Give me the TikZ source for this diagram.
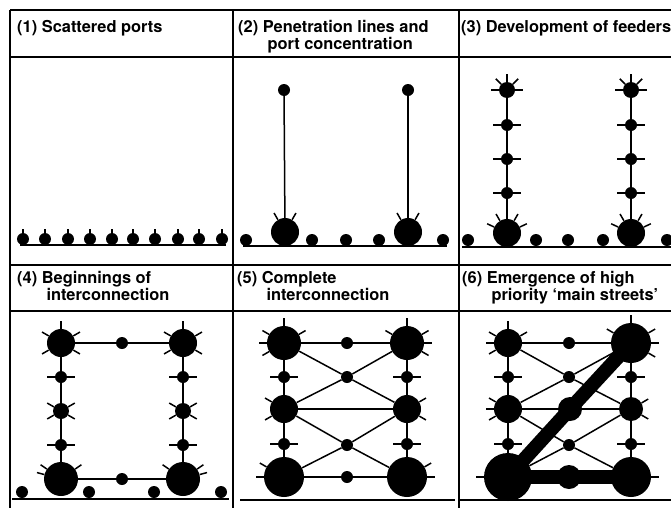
\documentclass[tikz,border=0pt]{standalone}
\usepackage{fontspec}
\setsansfont{TeX Gyre Heros}
\usepackage{tikz}
\usetikzlibrary{positioning}
\tikzset{
  port/.style={circle,fill,inner sep=0pt,minimum size=#1},
  port/.default=3.6mm,
  link/.style={line width=0.45mm},
  mainst/.style={line width=4.2mm},
  spoke/.style={line width=0.45mm},
  rule/.style={line width=0.45mm},
  ground/.style={line width=0.6mm},
  title/.style={anchor=north west,inner sep=0pt,align=left,
    font=\sffamily\bfseries\fontsize{14}{12.8}\selectfont}
}
% short ticks sticking out of a port
\newcommand{\spokes}[3][2.3mm]{\foreach \a in {#3} {\draw[spoke] (#2.\a) -- ++(\a:#1);}}
\newcommand{\ind}{\phantom{(0) }\hspace{4pt}}

\begin{document}
\begin{tikzpicture}[x=0.3mm,y=-0.3mm]
\useasboundingbox (0,0) rectangle (671,512);
% frame of the six panels
\draw[rule] (10,10) -- (671,10);
\draw[rule] (10,57) -- (671,57);
\draw[rule] (10,265) -- (671,265);
\draw[rule] (10,311) -- (671,311);
\foreach \x in {10,233,459} \draw[rule] (\x,10) -- (\x,508);

\node[title] (t1) at (17,20) {(1) Scattered ports};
\node[title] (t2) at (238,20) {(2) Penetration lines and\\\ind port concentration};
\node[title] (t3) at (461,20) {(3) Development of feeders};
\node[title] (t4) at (17,271) {(4) Beginnings of\\\ind interconnection};
\node[title] (t5) at (237,271) {(5) Complete\\\ind interconnection};
\node[title] (t6) at (462,271) {(6) Emergence of high\\\ind priority `main streets'};

% (1)
\foreach \i/\x in {1/23,2/45,3/68,4/90,5/112,6/133,7/155,8/178,9/199,10/222} {
  \node[port] (a\i) at (\x,239) {};
  \spokes[1.2mm]{a\i}{90}
}
\draw[ground] (20,245) -- (226,245);

% (2)
\foreach \i/\x in {1/246,2/312,3/346,4/379,5/443} \node[port] (b\i) at (\x,240) {};
\node[port=8.4mm] (bl) at (285,232) {};
\node[port=8.4mm] (br) at (408,232) {};
\node[port] (blt) at (284,90) {};
\node[port] (brt) at (408,90) {};
\draw[link] (blt) -- (bl);
\draw[link] (brt) -- (br);
\spokes{bl}{60,120}
\spokes{br}{60,120}
\draw[ground] (243,246) -- (447,246);

% (3)
\foreach \i/\x in {1/468,2/536,3/568,4/603,5/667} \node[port] (c\i) at (\x,240) {};
\foreach \s/\x in {l/507,r/631} {
  \node[port=4.8mm] (c\s1) at (\x,90) {};
  \node[port] (c\s2) at (\x,125) {};
  \node[port] (c\s3) at (\x,159) {};
  \node[port] (c\s4) at (\x,193) {};
  \node[port=8.4mm] (c\s5) at (\x,233) {};
  \draw[link] (c\s1) -- (c\s2) -- (c\s3) -- (c\s4) -- (c\s5);
  \spokes{c\s1}{0,45,90,135,180}
  \spokes{c\s2}{0,180}
  \spokes{c\s3}{0,180}
  \spokes{c\s4}{0,180}
  \spokes{c\s5}{25,60,120,155}
}
\draw[ground] (462,247) -- (671,247);

% (4)
\node[port=8.4mm] (d1) at (61,343) {};
\node[port] (d2) at (122,343) {};
\node[port=8.4mm] (d3) at (183,343) {};
\node[port] (d4) at (61,377) {};
\node[port] (d5) at (183,377) {};
\node[port=4.8mm] (d6) at (61,411) {};
\node[port=4.8mm] (d7) at (183,411) {};
\node[port] (d8) at (61,445) {};
\node[port] (d9) at (183,445) {};
\node[port=10.2mm] (d10) at (61,479) {};
\node[port] (d11) at (122,479) {};
\node[port=10.2mm] (d12) at (183,479) {};
\foreach \i/\x in {13/22,14/89,15/154,16/221} \node[port] (d\i) at (\x,492) {};
\draw[link] (d1) -- (d2) -- (d3);
\draw[link] (d10) -- (d11) -- (d12);
\draw[link] (d1) -- (d4) -- (d6) -- (d8) -- (d10);
\draw[link] (d3) -- (d5) -- (d7) -- (d9) -- (d12);
\spokes{d1}{30,90,150,210,330}
\spokes{d3}{30,90,150,210,330}
\spokes{d4}{0,180} \spokes{d5}{0,180} \spokes{d8}{0,180} \spokes{d9}{0,180}
\spokes{d6}{30,150,210,330}
\spokes{d7}{30,150,210,330}
\spokes{d10}{35,145,165}
\spokes{d12}{15,35,145}
\draw[ground] (12,499) -- (229,499);

% (5)
\node[port=10.2mm] (e1) at (284,343) {};
\node[port] (e2) at (347,343) {};
\node[port=10.2mm] (e3) at (407,343) {};
\node[port] (e4) at (284,377) {};
\node[port] (e5) at (347,377) {};
\node[port] (e6) at (407,377) {};
\node[port=8.4mm] (e7) at (284,409) {};
\node[port=8.4mm] (e8) at (407,409) {};
\node[port] (e9) at (284,444) {};
\node[port] (e10) at (347,445) {};
\node[port] (e11) at (407,444) {};
\node[port=12mm] (e12) at (284,477) {};
\node[port] (e13) at (347,477) {};
\node[port=12mm] (e14) at (407,477) {};
\draw[link] (e1) -- (e2) -- (e3);
\draw[link] (e1) -- (e4) -- (e7) -- (e9) -- (e12);
\draw[link] (e3) -- (e6) -- (e8) -- (e11) -- (e14);
\draw[link] (e1) -- (e5) -- (e8);
\draw[link] (e3) -- (e5) -- (e7);
\draw[link] (e7) -- (e8);
\draw[link] (e7) -- (e10) -- (e14);
\draw[link] (e8) -- (e10) -- (e12);
\draw[link] (e12) -- (e13) -- (e14);
\spokes{e1}{30,90,150,180,210}
\spokes{e3}{0,30,90,150,330}
\spokes{e4}{0,180} \spokes{e6}{0,180} \spokes{e9}{0,180} \spokes{e11}{0,180}
\spokes{e7}{150,210}
\spokes{e8}{30,330}
\spokes{e12}{150,180}
\spokes{e14}{0,30}
\draw[ground] (240,500) -- (455,500);

% (6)
\node[port=8.4mm] (f1) at (508,343) {};
\node[port] (f2) at (569,343) {};
\node[port=12mm] (f3) at (631,343) {};
\node[port] (f4) at (508,377) {};
\node[port] (f5) at (569,377) {};
\node[port] (f6) at (631,377) {};
\node[port=8.4mm] (f7) at (508,409) {};
\node[port=7.2mm] (f15) at (570,409) {};
\node[port=7.2mm] (f8) at (631,409) {};
\node[port] (f9) at (508,444) {};
\node[port] (f10) at (569,445) {};
\node[port] (f11) at (631,444) {};
\node[port=14.4mm] (f12) at (508,477) {};
\node[port=7.2mm] (f13) at (569,477) {};
\node[port=12mm] (f14) at (631,477) {};
\draw[link] (f1) -- (f2) -- (f3);
\draw[link] (f1) -- (f4) -- (f7) -- (f9) -- (f12);
\draw[link] (f3) -- (f6) -- (f8) -- (f11) -- (f14);
\draw[link] (f1) -- (f5) -- (f8);
\draw[link] (f3) -- (f5) -- (f7);
\draw[link] (f7) -- (f15) -- (f8);
\draw[link] (f7) -- (f10) -- (f14);
\draw[link] (f8) -- (f10) -- (f12);
\draw[mainst] (f12.center) -- (f15.center) -- (f3.center);
\draw[mainst] (f12.center) -- (f13.center) -- (f14.center);
\spokes{f1}{30,90,150,180,210}
\spokes{f3}{0,30,90,150,330}
\spokes{f4}{0,180} \spokes{f6}{0,180} \spokes{f9}{0,180} \spokes{f11}{0,180}
\spokes{f7}{150,180,210}
\spokes{f8}{30,330}
\spokes{f12}{180}
\spokes{f14}{0}
\draw[ground] (460,500) -- (671,500);
\end{tikzpicture}
\end{document}
